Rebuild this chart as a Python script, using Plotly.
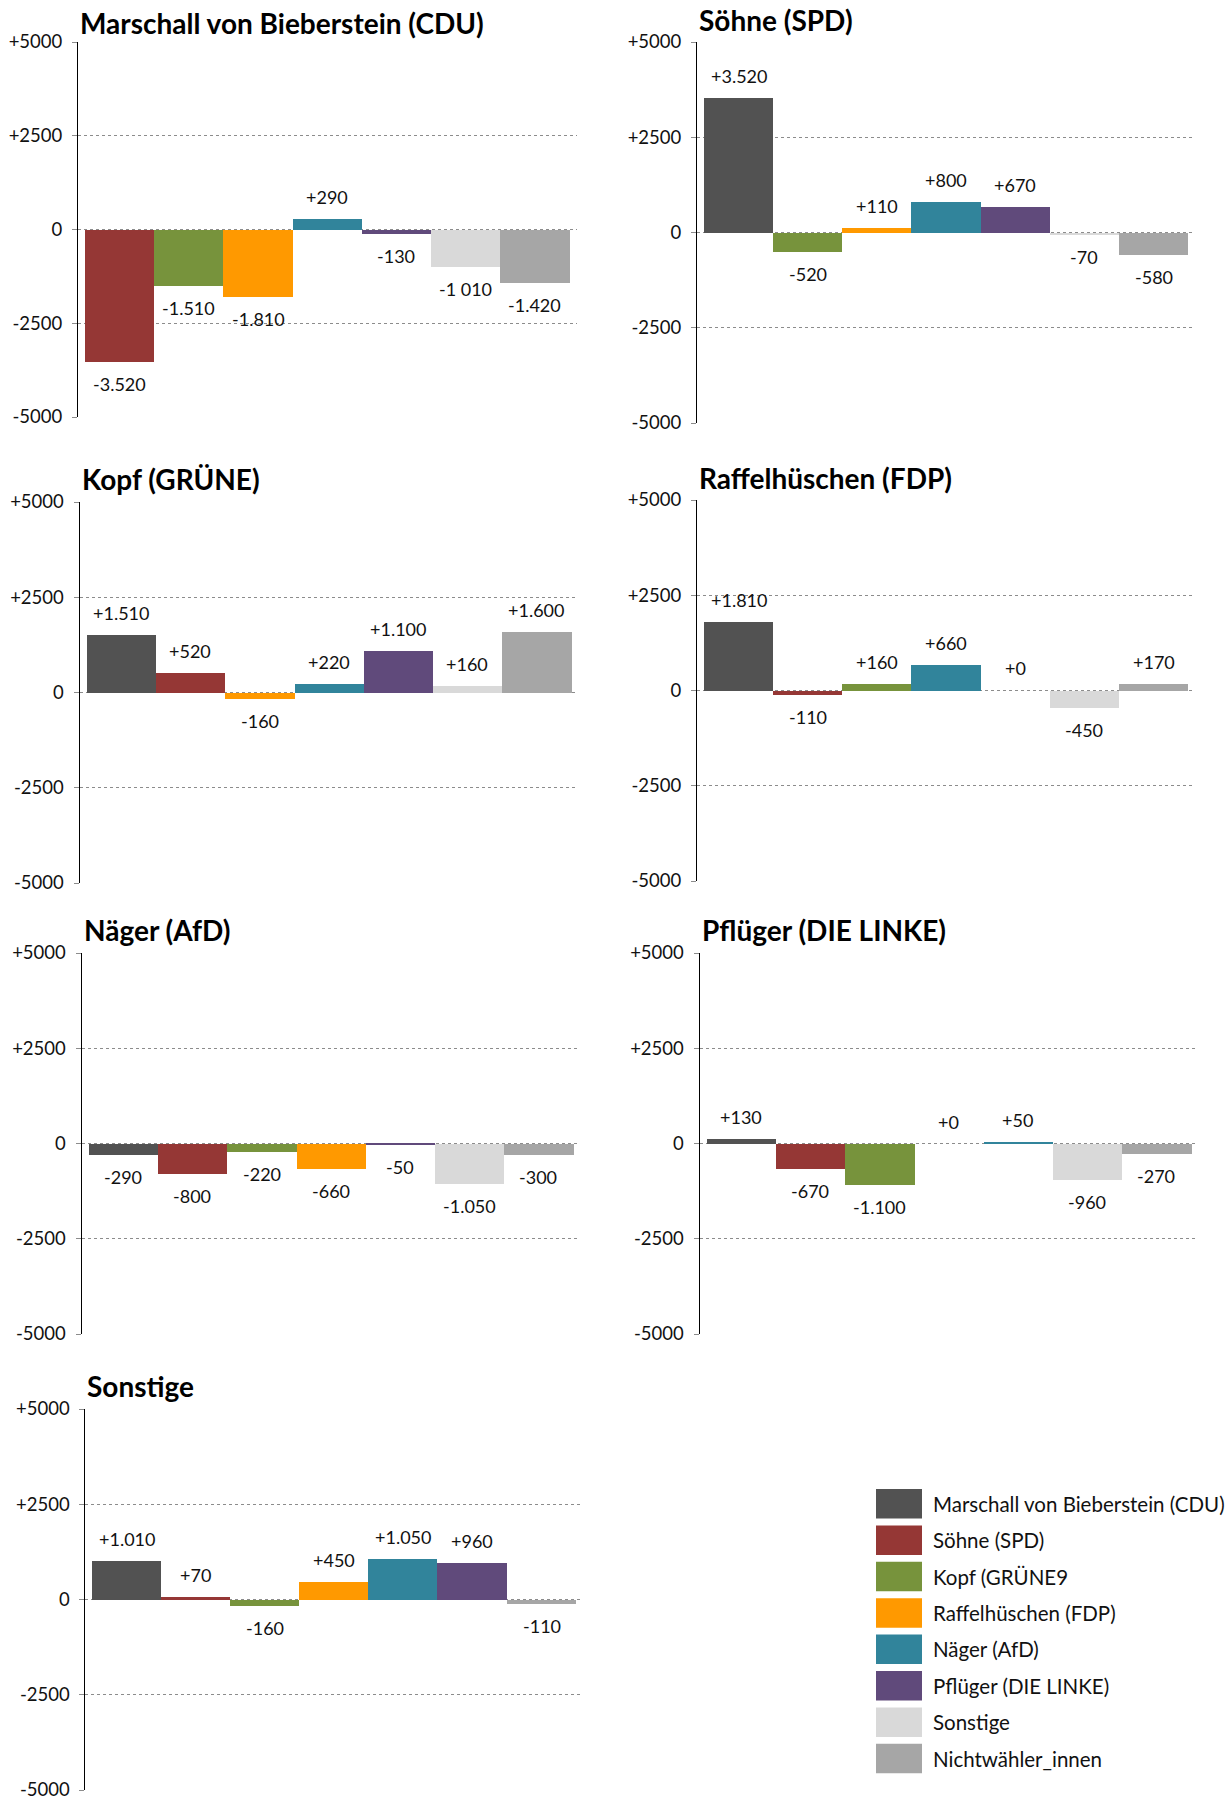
import plotly.graph_objects as go

W, H = 1231, 1796

# ---------------- data ----------------
sources = ["Marschall von Bieberstein (CDU)", "Söhne (SPD)", "Kopf (GRÜNE)",
           "Raffelhüschen (FDP)", "Näger (AfD)", "Pflüger (DIE LINKE)",
           "Sonstige", "Nichtwähler_innen"]
legend_labels = ["Marschall von Bieberstein (CDU)", "Söhne (SPD)", "Kopf (GRÜNE9",
                 "Raffelhüschen (FDP)", "Näger (AfD)", "Pflüger (DIE LINKE)",
                 "Sonstige", "Nichtwähler_innen"]
colors = ["#525252", "#953735", "#77933C", "#FF9900",
          "#31849B", "#604A7B", "#D9D9D9", "#A6A6A6"]

panel_titles = ["Marschall von Bieberstein (CDU)", "Söhne (SPD)", "Kopf (GRÜNE)",
                "Raffelhüschen (FDP)", "Näger (AfD)", "Pflüger (DIE LINKE)", "Sonstige"]

marschall_values = [-3520, -1510, -1810, 290, -130, -1010, -1420]
marschall_labels = ["-3.520", "-1.510", "-1.810", "+290", "-130", "-1 010", "-1.420"]

soehne_values = [3520, -520, 110, 800, 670, -70, -580]
soehne_labels = ["+3.520", "-520", "+110", "+800", "+670", "-70", "-580"]

kopf_values = [1510, 520, -160, 220, 1100, 160, 1600]
kopf_labels = ["+1.510", "+520", "-160", "+220", "+1.100", "+160", "+1.600"]

raffel_values = [1810, -110, 160, 660, 0, -450, 170]
raffel_labels = ["+1.810", "-110", "+160", "+660", "+0", "-450", "+170"]

naeger_values = [-290, -800, -220, -660, -50, -1050, -300]
naeger_labels = ["-290", "-800", "-220", "-660", "-50", "-1.050", "-300"]

pflueger_values = [130, -670, -1100, 0, 50, -960, -270]
pflueger_labels = ["+130", "-670", "-1.100", "+0", "+50", "-960", "-270"]

sonstige_values = [1010, 70, -160, 450, 1050, 960, -110]
sonstige_labels = ["+1.010", "+70", "-160", "+450", "+1.050", "+960", "-110"]

panel_values = [marschall_values, soehne_values, kopf_values, raffel_values,
                naeger_values, pflueger_values, sonstige_values]
panel_labels = [marschall_labels, soehne_labels, kopf_labels, raffel_labels,
                naeger_labels, pflueger_labels, sonstige_labels]

y_tickvals = [-5000, -2500, 0, 2500, 5000]
y_ticktext = ["-5000", "-2500", "0", "+2500", "+5000"]

# ---------------- layout geometry (pixels) ----------------
# (left, right, top(+5000), bottom(-5000), title_center_y)
boxes = [
    (78, 576.5, 42, 417, 23),
    (697, 1195, 42, 423, 20),
    (79.5, 578, 502, 883, 479),
    (697, 1195, 500, 881, 478),
    (81.5, 580, 953, 1334, 930),
    (699.5, 1198, 953, 1334, 930),
    (85.4, 583, 1409, 1790, 1386),
]

FONT = "Lato, 'Noto Sans', sans-serif"

fig = go.Figure()
annotations = []
shapes = []
layout_axes = {}

for k in range(7):
    cats = [j for j in range(8) if j != k]
    vals = panel_values[k]
    labs = panel_labels[k]
    cols = [colors[j] for j in cats]
    xs = list(range(7))
    suffix = "" if k == 0 else str(k + 1)
    fig.add_trace(go.Bar(
        x=xs, y=vals, width=1, marker=dict(color=cols, line=dict(width=0)),
        xaxis="x" + suffix, yaxis="y" + suffix, showlegend=False,
        hoverinfo="skip",
    ))
    l, r, t, b, tc = boxes[k]
    layout_axes["xaxis" + suffix] = dict(
        domain=[l / W, r / W], range=[-0.6, 6.6], anchor="y" + suffix,
        showgrid=False, zeroline=False, showline=False, showticklabels=False,
        ticks="", fixedrange=True, automargin=False,
    )
    layout_axes["yaxis" + suffix] = dict(
        domain=[1 - b / H, 1 - t / H], range=[-5000, 5000], anchor="x" + suffix,
        tickvals=y_tickvals, ticktext=y_ticktext,
        showgrid=True, gridcolor="#8c8c8c", griddash="dot", gridwidth=1,
        zeroline=False, showline=True, linecolor="#000000", linewidth=1,
        ticks="outside", ticklen=5, tickcolor="#8c8c8c", tickwidth=1,
        ticklabelstandoff=6, ticklabeloverflow="allow",
        tickfont=dict(family=FONT, size=18.5, color="#111111"),
        fixedrange=True, automargin=False,
    )
    for i, (v, s) in enumerate(zip(vals, labs)):
        annotations.append(dict(
            x=i, y=v, xref="x" + suffix, yref="y" + suffix, text=s,
            showarrow=False, xanchor="center", yanchor="middle",
            yshift=22 if v >= 0 else -22,
            font=dict(family=FONT, size=18, color="#111111"),
        ))
    annotations.append(dict(
        x=l / W, y=1 - tc / H, xref="paper", yref="paper",
        text=panel_titles[k], showarrow=False, xanchor="left", yanchor="middle",
        font=dict(family=FONT, size=28, color="#000000", weight=700),
    ))

# ---------------- legend (drawn) ----------------
leg_x0, leg_x1 = 876, 922
leg_top0, leg_step, leg_h = 1489, 36.4, 29.5
for i, (lab, c) in enumerate(zip(legend_labels, colors)):
    top = leg_top0 + i * leg_step
    shapes.append(dict(
        type="rect", xref="paper", yref="paper",
        x0=leg_x0 / W, x1=leg_x1 / W, y0=1 - (top + leg_h) / H, y1=1 - top / H,
        fillcolor=c, line=dict(width=0),
    ))
    annotations.append(dict(
        x=931 / W, y=1 - (top + leg_h / 2) / H, xref="paper", yref="paper",
        text=lab, showarrow=False, xanchor="left", yanchor="middle",
        font=dict(family=FONT, size=20.5, color="#111111"),
    ))

fig.update_layout(
    width=W, height=H, margin=dict(l=0, r=0, t=0, b=0, autoexpand=False),
    paper_bgcolor="white", plot_bgcolor="white",
    bargap=0, showlegend=False,
    annotations=annotations, shapes=shapes,
    **layout_axes,
)

fig.write_html("out.html", config={"displayModeBar": False})
